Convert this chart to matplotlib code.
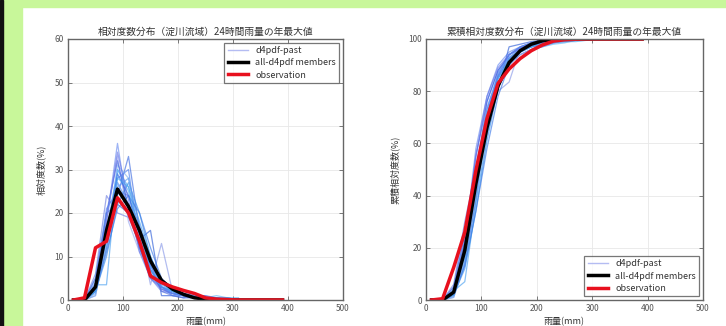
import numpy as np
import matplotlib.pyplot as plt
from matplotlib.lines import Line2D
from matplotlib.patches import Rectangle

plt.rcParams['font.family'] = ['Noto Sans CJK JP', 'DejaVu Sans']

# bin centres of the 24h annual maximum rainfall (mm)
rain_bins = [10, 30, 50, 70, 90, 110, 130, 150, 170, 190,
             210, 230, 250, 270, 290, 310, 330, 350, 370, 390]

# relative frequency (%) per bin
observation = [0, 0.5, 12, 13.5, 23.5, 20, 13.5, 5.5, 4, 3,
               2.2, 1.5, 0.5, 0.2, 0.1, 0, 0, 0, 0, 0]
all_members = [0, 0, 3, 16, 25.5, 21.5, 16, 9, 4.5, 2.5,
               1.3, 0.5, 0.2, 0, 0, 0, 0, 0, 0, 0]

# individual d4pdf-past members (10 .. 310 mm)
member_01 = [0, 0, 4, 18, 36, 20, 12, 5, 2, 1.5, 1, 0.5, 0, 0, 0, 0]
member_02 = [0, 0, 2, 12, 24, 33, 16, 7, 3, 1.5, 1, 0.5, 0, 0, 0, 0]
member_03 = [0, 0, 3.5, 3.5, 30, 26, 18, 10, 4, 2, 1.5, 1, 0.5, 0, 0, 0]
member_04 = [0, 0, 1, 14, 27, 22, 16, 3.5, 13, 2, 1, 0.5, 0, 0, 0, 0]
member_05 = [0, 0, 5, 20, 22, 20, 14, 16, 1, 1, 0.5, 0.5, 0, 0, 0, 0]
member_06 = [0, 0, 2, 16, 30, 25, 12, 6, 3, 2, 1, 1, 0.5, 1, 0.5, 0]
member_07 = [0, 0, 6, 24, 20, 19, 13, 8, 4, 2, 1, 1.5, 0.5, 0.5, 0.5, 0]
member_08 = [0, 0, 3, 15, 28, 30, 12, 5, 3, 1, 1, 1, 0.5, 0.5, 0, 0]
member_09 = [0, 0, 4, 19, 33, 18, 11, 7, 2, 2, 2, 1, 1, 0, 0, 0]
member_10 = [0, 0, 2, 10, 22, 27, 20, 10, 4, 2, 1.5, 0.5, 0, 0.5, 0.5, 0]
member_11 = [0, 0, 3, 17, 25, 24, 17, 8, 2, 1, 0.5, 1, 1, 0.5, 0, 0]
member_12 = [0, 0, 1, 13, 31, 28, 14, 6, 3, 1.5, 1, 0.5, 0.5, 0.5, 0, 0]
member_13 = [0, 0, 2.5, 15, 29, 24, 15, 7, 3, 2, 1, 0.5, 0.5, 0.5, 0, 0]
member_14 = [0, 0, 1.5, 12, 26, 28, 17, 8, 3.5, 2, 1, 0.5, 0.5, 0, 0, 0]
member_15 = [0, 0, 3, 20, 32, 21, 12, 6, 2.5, 1.5, 1, 0.5, 0.5, 0, 0, 0]
member_16 = [0, 0, 4, 16, 27, 22, 14, 8, 4, 2, 1.5, 1, 0.5, 0, 0, 0]
member_17 = [0, 0, 2, 11, 21, 24, 20, 12, 5, 2.5, 1.5, 0.5, 0.5, 0, 0, 0]
member_18 = [0, 0, 3, 18, 34, 23, 11, 5, 2.5, 1.5, 1, 0.5, 0.5, 0, 0, 0]
member_19 = [0, 0, 2, 14, 28, 26, 15, 7, 3, 2, 1, 0.5, 0.5, 0, 0.5, 0.5]
member_20 = [0, 0, 5, 21, 25, 22, 13, 8, 3, 1.5, 1, 0.5, 0, 0, 0, 0]

members = [member_01, member_02, member_03, member_04, member_05,
           member_06, member_07, member_08, member_09, member_10,
           member_11, member_12, member_13, member_14, member_15,
           member_16, member_17, member_18, member_19, member_20]
member_colors = ["#6a8cf0", "#3d6be0", "#4aa0f0", "#8a9ae8", "#2f5fd8",
                 "#5fb4f5", "#7080e0", "#4c7ff0", "#9aa8f0", "#3a90e8",
                 "#5470e0", "#80b0f0", "#2a6ae8", "#5a9af0", "#4060e0",
                 "#70a8f8", "#3c7ae8", "#6a78e8", "#48a8f0", "#5a88f0"]

fig = plt.figure(figsize=(7.26, 3.26), dpi=100)
fig.patch.set_facecolor("white")
# green page frame behind the figure
fig.patches.append(Rectangle((0, 0), 22 / 726, 1, transform=fig.transFigure,
                             color="#c8f79a", zorder=0))
fig.patches.append(Rectangle((0, 1 - 7 / 326), 1, 7 / 326, transform=fig.transFigure,
                             color="#c8f79a", zorder=0))
fig.patches.append(Rectangle((0, 0), 2.5 / 726, 1, transform=fig.transFigure,
                             color="#111111", zorder=1))

ax1 = fig.add_axes([68 / 726, 26 / 326, 275 / 726, 261 / 326])
ax2 = fig.add_axes([426 / 726, 26 / 326, 277 / 726, 261 / 326])

x_all = np.array(rain_bins)
x_mem = x_all[:16]

for vals, c in zip(members, member_colors):
    ax1.plot(x_mem, vals, color=c, lw=0.9, alpha=0.65)
    ax2.plot(x_mem, np.cumsum(vals), color=c, lw=0.9, alpha=0.65)

ax1.plot(x_all, all_members, color="black", lw=2.5)
ax1.plot(x_all, observation, color="#e8101e", lw=2.5)
ax2.plot(x_all, np.cumsum(all_members), color="black", lw=2.5)
ax2.plot(x_all, np.cumsum(observation), color="#e8101e", lw=2.5)

handles = [Line2D([], [], color="#b4bcf2", lw=1),
           Line2D([], [], color="black", lw=2.5),
           Line2D([], [], color="#e8101e", lw=2.5)]
labels = ["d4pdf-past", "all-d4pdf members", "observation"]

title_part = "（淀川流域）24時間雨量の年最大値"
for ax, ymax, title, ylab, loc in [
        (ax1, 60, "相対度数分布" + title_part, "相対度数(%)", "upper right"),
        (ax2, 100, "累積相対度数分布" + title_part, "累積相対度数(%)", "lower right")]:
    ax.set_xlim(0, 500)
    ax.set_ylim(0, ymax)
    ax.set_title(title, fontsize=7, color="#333333", pad=3)
    ax.set_ylabel(ylab, fontsize=6.5, color="#333333", labelpad=6)
    ax.set_xlabel("雨量(mm)", fontsize=6.5, color="#333333", labelpad=3)
    ax.grid(True, color="#e8e8e8", lw=0.6)
    ax.set_axisbelow(True)
    ax.tick_params(direction="in", top=True, right=True, length=3, width=0.6,
                   labelsize=6, labelcolor="#555555", color="#666666", pad=3)
    for sp in ax.spines.values():
        sp.set_color("#666666")
        sp.set_linewidth(1.0)
    leg = ax.legend(handles, labels, loc=loc, fontsize=6.5, frameon=True,
                    fancybox=False, handlelength=2.2, borderaxespad=0.4,
                    labelspacing=0.35)
    leg.get_frame().set_edgecolor("#555555")
    leg.get_frame().set_linewidth(0.9)
    for t in leg.get_texts():
        t.set_color("#333333")

ax1.set_yticks([0, 10, 20, 30, 40, 50, 60])
ax2.set_yticks([0, 20, 40, 60, 80, 100])

plt.savefig("out.png", dpi=100)
